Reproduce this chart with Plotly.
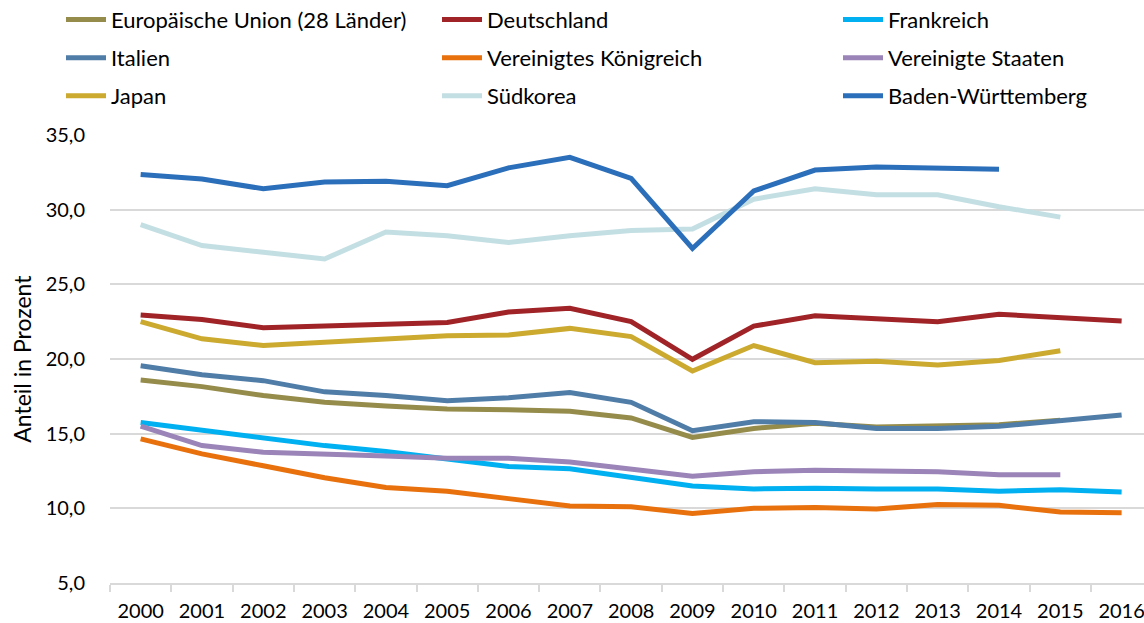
import plotly.graph_objects as go

years = [str(y) for y in range(2000, 2017)]

eu = [18.6, 18.15, 17.55, 17.1, 16.85, 16.65, 16.6, 16.5, 16.05, 14.75, 15.35, 15.7, 15.45, 15.5, 15.6, 15.9]
deutschland = [22.95, 22.65, 22.1, 22.2, 22.35, 22.45, 23.15, 23.4, 22.5, 19.98, 22.2, 22.9, 22.7, 22.5, 23.0, 22.8, 22.55]
frankreich = [15.75, 15.25, 14.75, 14.2, 13.8, 13.3, 12.8, 12.65, 12.1, 11.5, 11.3, 11.35, 11.3, 11.3, 11.15, 11.25, 11.1]
italien = [19.55, 18.95, 18.55, 17.8, 17.55, 17.2, 17.4, 17.75, 17.1, 15.2, 15.8, 15.75, 15.35, 15.35, 15.5, 15.9, 16.25]
vk = [14.65, 13.65, 12.85, 12.05, 11.4, 11.15, 10.65, 10.15, 10.1, 9.65, 10.0, 10.05, 9.95, 10.25, 10.2, 9.75, 9.7]
usa = [15.5, 14.2, 13.75, 13.65, 13.5, 13.35, 13.35, 13.1, 12.65, 12.15, 12.45, 12.55, 12.5, 12.45, 12.25, 12.25]
japan = [22.5, 21.35, 20.9, 21.1, 21.35, 21.55, 21.6, 22.05, 21.5, 19.2, 20.9, 19.75, 19.85, 19.6, 19.9, 20.55]
suedkorea = [29.0, 27.6, 27.15, 26.7, 28.5, 28.25, 27.8, 28.25, 28.6, 28.7, 30.7, 31.4, 31.0, 31.0, 30.2, 29.5]
bw = [32.35, 32.05, 31.4, 31.85, 31.9, 31.6, 32.8, 33.5, 32.1, 27.4, 31.25, 32.65, 32.85, 32.75, 32.7]

series = [
    ("Europäische Union (28 Länder)", eu, "#958C4B", "legend"),
    ("Deutschland", deutschland, "#A02327", "legend2"),
    ("Frankreich", frankreich, "#00B0F0", "legend3"),
    ("Italien", italien, "#4F7DA8", "legend"),
    ("Vereinigtes Königreich", vk, "#E8700D", "legend2"),
    ("Vereinigte Staaten", usa, "#9A84B8", "legend3"),
    ("Japan", japan, "#CBAA2F", "legend"),
    ("Südkorea", suedkorea, "#C4DFE3", "legend2"),
    ("Baden-Württemberg", bw, "#2B6EBA", "legend3"),
]

FONT = "Lato"
W, H = 1144, 623

fig = go.Figure()
for i, (name, vals, color, lg) in enumerate(series):
    fig.add_trace(go.Scatter(
        x=years[:len(vals)], y=vals, name=name, mode="lines",
        line=dict(color=color, width=5), legend=lg, legendgroup=name,
    ))

def legend_cfg(px_x):
    return dict(
        xref="container", yref="paper", x=px_x / W, y=1.304,
        xanchor="left", yanchor="top", orientation="v",
        font=dict(family=FONT, size=22, color="#000000"),
        bgcolor="rgba(0,0,0,0)", tracegroupgap=6.5, itemwidth=40,
    )

fig.update_layout(
    width=W, height=H,
    margin=dict(l=110, r=0, t=135, b=40, autoexpand=False),
    plot_bgcolor="white", paper_bgcolor="white",
    separators=",.",
    font=dict(family=FONT, size=20, color="#000000"),
    legend=legend_cfg(61),
    legend2=legend_cfg(437),
    legend3=legend_cfg(838),
    showlegend=True,
    annotations=[dict(
        text="Anteil in Prozent", textangle=-90,
        xref="paper", yref="paper", x=-0.0854, y=0.5,
        xanchor="center", yanchor="middle", showarrow=False,
        font=dict(family=FONT, size=23, color="#000000"),
    )],
)

fig.update_xaxes(
    type="category", categoryorder="array", categoryarray=years,
    range=[-0.5, 16.365],
    showgrid=False, showline=True, linecolor="#D9D9D9", linewidth=1.5,
    ticks="outside", tickson="boundaries", ticklen=7, tickcolor="#D9D9D9", tickwidth=1.5,
    ticklabelstandoff=9,
    tickfont=dict(family=FONT, size=20, color="#000000"), tickangle=0,
    fixedrange=True,
)
fig.update_yaxes(
    range=[5, 35], dtick=5, tick0=5, tickformat=".1f",
    showgrid=True, gridcolor="#D9D9D9", gridwidth=1.5,
    zeroline=False, showline=False,
    ticks="", ticklabelstandoff=24,
    tickfont=dict(family=FONT, size=20, color="#000000"),
)

fig.write_html(
    "out.html",
    config={"displayModeBar": False},
    post_script="document.body.style.margin='0px';",
)
